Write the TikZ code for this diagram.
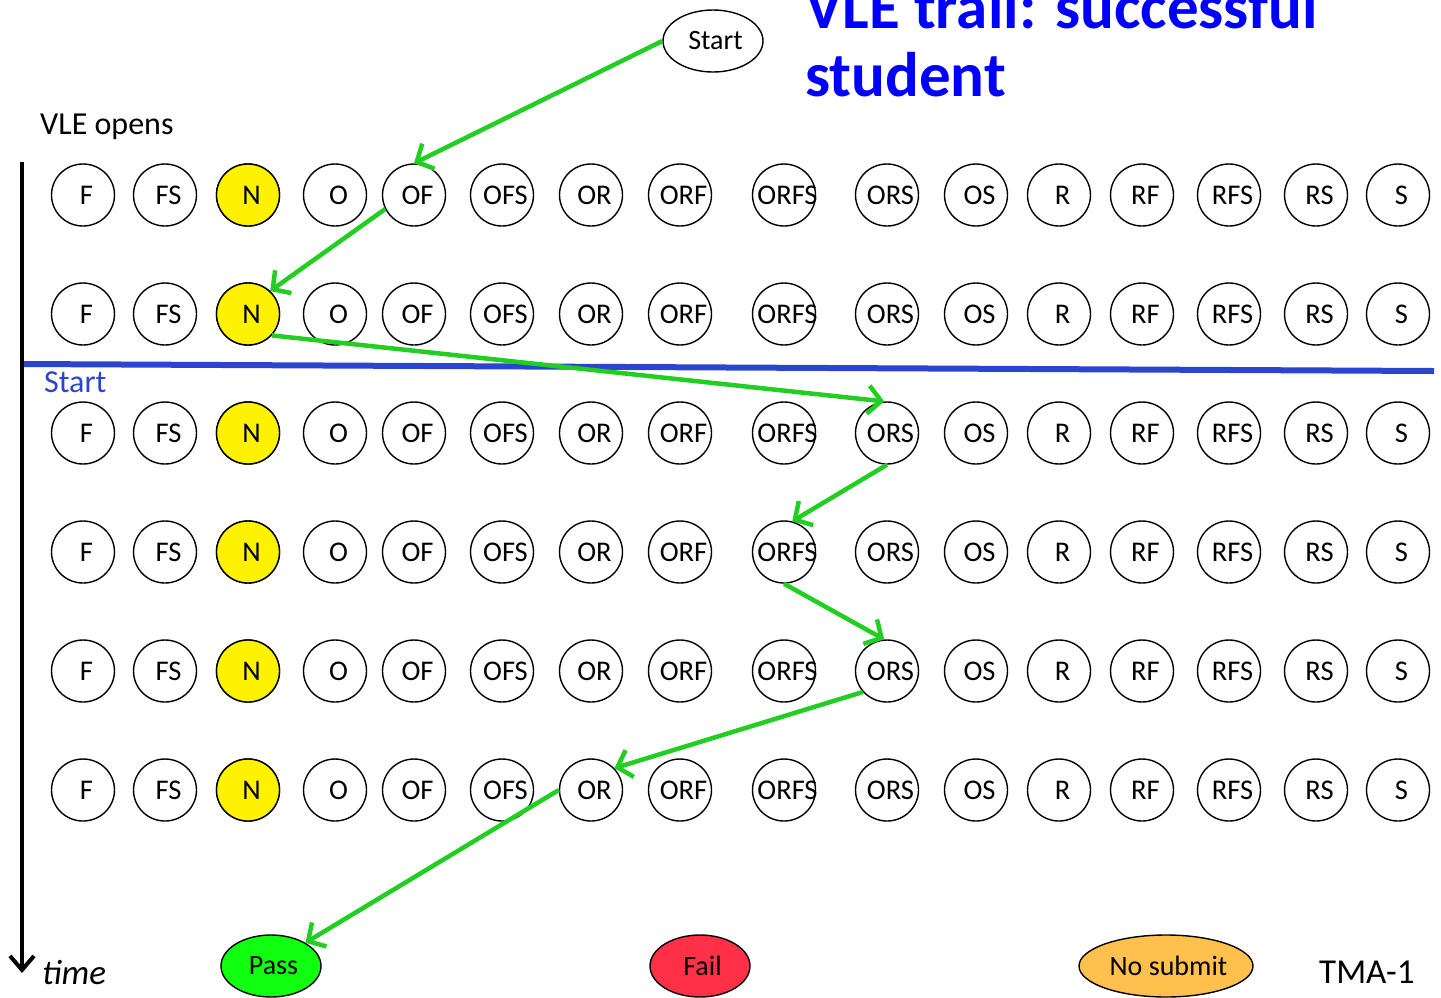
\documentclass[tikz,border=0pt]{standalone}
\usepackage{fontspec}
\setmainfont{Carlito}
\usetikzlibrary{arrows.meta,shapes.geometric}
\definecolor{trail}{RGB}{34,206,34}
\definecolor{lineblue}{RGB}{43,69,207}
\definecolor{passg}{RGB}{17,255,17}
\definecolor{failr}{RGB}{255,48,71}
\definecolor{nosub}{RGB}{255,192,77}
\definecolor{titleblue}{RGB}{0,0,255}
\tikzset{
  state/.style={ellipse,draw=black,line width=1.4pt,minimum width=63pt,minimum height=62pt,inner sep=0pt,font=\fontsize{28.5}{28.5}\selectfont},
  outcome/.style={ellipse,draw=black,line width=1.4pt,minimum width=100pt,minimum height=62pt,inner sep=0pt,font=\fontsize{28}{28}\selectfont},
  trailarrow/.style={draw=trail,line width=4.5pt,-{Straight Barb[length=13pt,width=28pt,line width=4.5pt]}},
  plain/.style={font=\fontsize{32}{32}\selectfont},
}
\newcommand{\statelab}[1]{\makebox[0pt]{\hspace{7pt}\raisebox{-2pt}{#1}}}
\newcommand{\outlab}[1]{\hspace{5pt}\raisebox{-3pt}{#1}}
\begin{document}
\begin{tikzpicture}[x=1pt,y=-1pt]
\useasboundingbox (0,0) rectangle (1441,997);
% rows of states
\foreach \r/\y in {1/195,2/314,3/433,4/552,5/671,6/790}{
  \foreach \lab/\x [count=\i] in {F/83,FS/165,N/248,O/335,OF/414,OFS/502,OR/591,ORF/680,ORFS/784,ORS/887,OS/976,R/1059,RF/1142,RFS/1229,RS/1316,S/1398}{
    \node[state] (n-\r-\i) at (\x,\y) {\statelab{\lab}};
  }
  \node[state,fill=yellow] at (n-\r-3) {\statelab{N}};
}
% blue start line
\coordinate (bl1) at (22,364);
\coordinate (bl2) at (1434,371);
\draw[draw=lineblue,line width=6pt] (bl1) -- (bl2);
% title and texts
\node[anchor=base west,font=\fontsize{63}{63}\bfseries\selectfont,text=titleblue,inner sep=0pt] (title1) at (805,28) {VLE trail: successful};
\node[anchor=base west,font=\fontsize{63}{63}\bfseries\selectfont,text=titleblue,inner sep=0pt] (title2) at (805,96) {student};
\node[plain,anchor=base west,inner sep=0pt] (vleopens) at (40,134) {VLE opens};
\node[plain,anchor=base west,inner sep=0pt,text=lineblue] (starttxt) at (44,392) {Start};
\node[plain,anchor=base west,inner sep=0pt,font=\fontsize{35}{35}\selectfont] (tma) at (1319,983) {TMA-1};
\node[plain,anchor=base west,inner sep=0pt,font=\fontsize{35}{35}\itshape\selectfont] (timetxt) at (42,984) {time};
% time axis
\coordinate (t1) at (22,162);
\coordinate (t2) at (22,973);
\draw[line width=4pt,-{Straight Barb[length=14pt,width=24pt,line width=4pt]}] (t1) -- (t2);
% start and outcome nodes
\node[outcome] (start) at (713,41) {\outlab{Start}};
\node[outcome,fill=passg] (pass) at (271,966) {\outlab{Pass}};
\node[outcome,fill=failr] (fail) at (700,966) {\outlab{Fail}};
\node[outcome,fill=nosub,minimum width=174pt] (nosubmit) at (1166,966) {\outlab{No submit}};
% trail
\draw[trailarrow] (start.west) -- (n-1-5.north);
\draw[trailarrow] (n-1-5.206) -- (n-2-3.46);
\draw[trailarrow] (n-2-3.-42) -- (n-3-10.95);
\draw[trailarrow] (n-3-10.south) -- (n-4-9.75);
\draw[trailarrow] (n-4-9.south) -- (n-5-10.95);
\draw[trailarrow] (n-5-10.221) -- (n-6-7.43);
\draw[trailarrow] (n-6-7.west) -- (pass.34);
\end{tikzpicture}
\end{document}
